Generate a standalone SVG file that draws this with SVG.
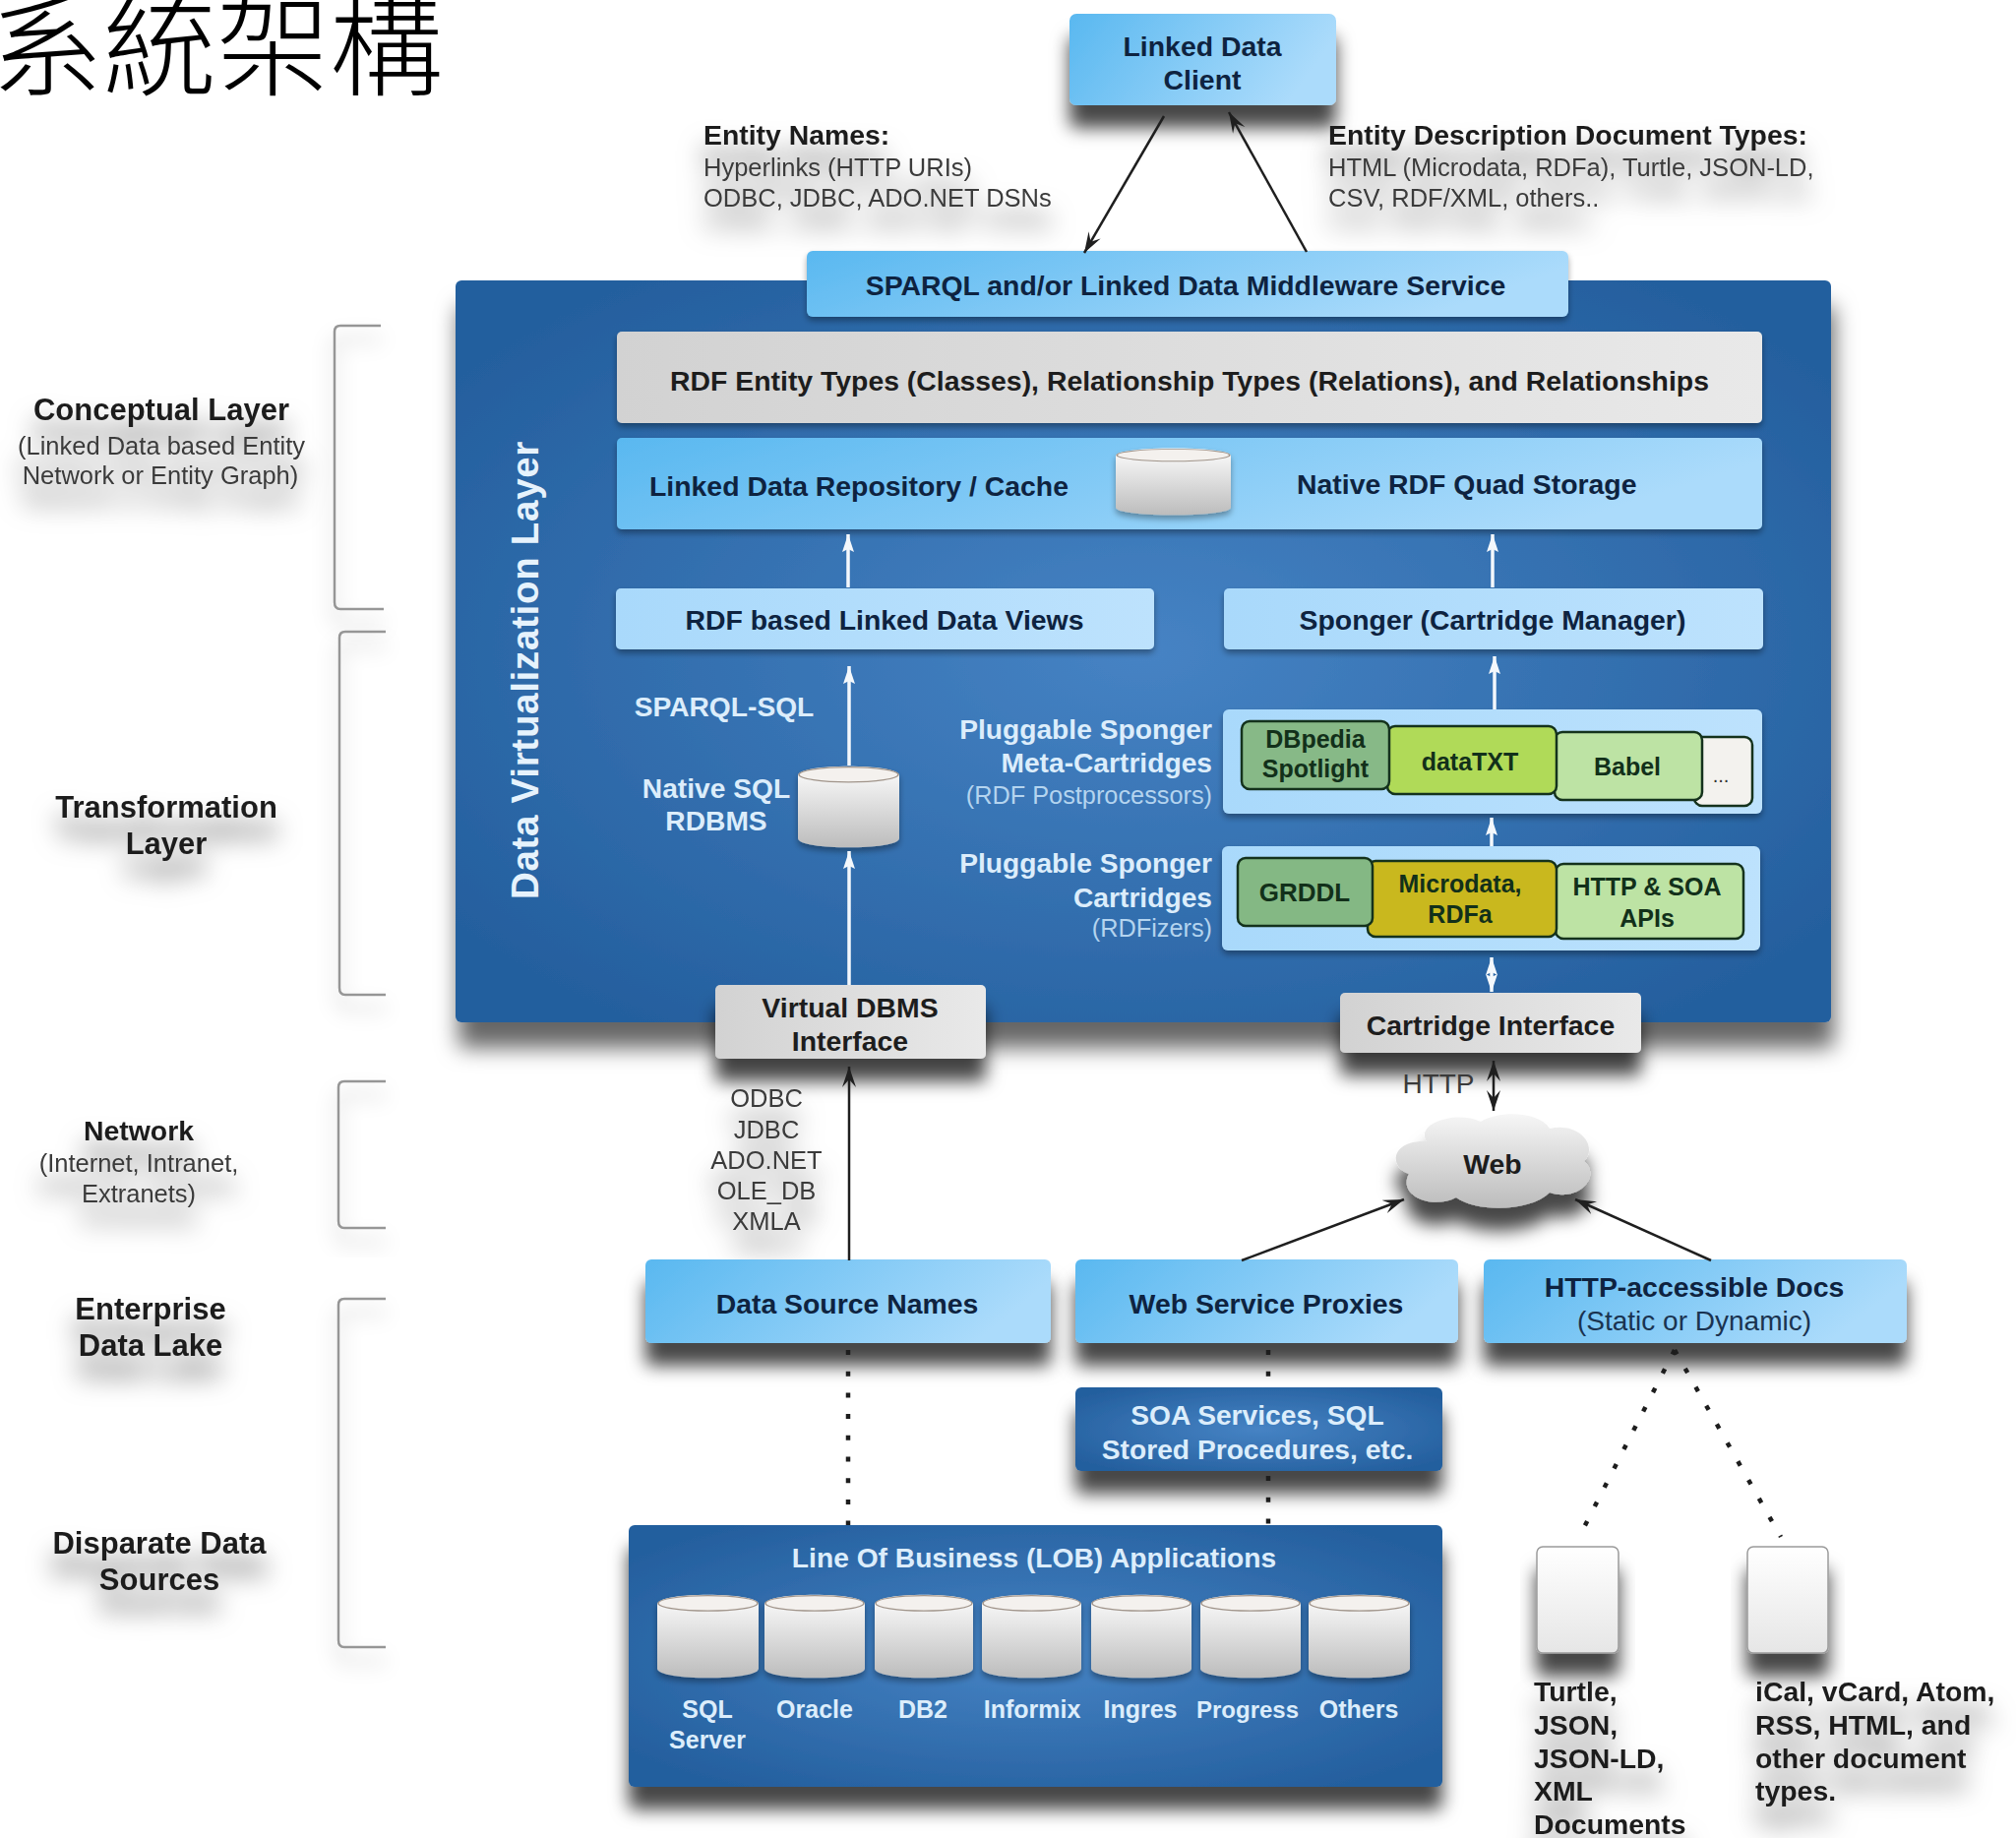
<svg xmlns="http://www.w3.org/2000/svg" xmlns:xlink="http://www.w3.org/1999/xlink" width="2049" height="1868" viewBox="0 0 2049 1868">
<style>
text{font-family:"Liberation Sans",Arial,sans-serif}
.b{font-weight:700;font-size:28.4px;fill:#0e2340}
.k{font-weight:700;font-size:28.4px;fill:#1d1d1d}
.l{font-weight:700;font-size:31px;fill:#1d1d1d}
.r{font-size:25.5px;fill:#3a3a3a}
.w{font-weight:700;font-size:28.2px;fill:#dcedfb}
.p{font-weight:700;font-size:25px;fill:#12301a}
.c{font-weight:700;font-size:25px;fill:#dcedfb}
.m{text-anchor:middle}
.e{text-anchor:end}
.sh{filter:url(#shadow)}
.si{filter:url(#inner)}
.st{filter:url(#tshadow)}
.light{fill:url(#lightblue)}
.pale{fill:url(#paleblue)}
.grey{fill:url(#greyg)}
.dark{fill:url(#darkblue)}
.plug{stroke:#14321c;stroke-width:2.5}
.brk{fill:none;stroke:#969696;stroke-width:2.5;filter:url(#inner2)}
.wa{stroke:#f4f8fc;stroke-width:3.5;fill:none}
.ba{stroke:#1f1f1f;stroke-width:2.5;fill:none}
.dot{stroke:#1d1d1d;stroke-width:4.5;fill:none;stroke-dasharray:5 16.7}
</style>
<defs>
<linearGradient id="lightblue" x1="0" y1="0" x2="1" y2="0.25"><stop offset="0" stop-color="#59b8f0"/><stop offset="1" stop-color="#abdbfb"/></linearGradient>
<linearGradient id="paleblue" x1="0" y1="0" x2="1" y2="0"><stop offset="0" stop-color="#a9d9fb"/><stop offset="1" stop-color="#bde2fd"/></linearGradient>
<linearGradient id="greyg" x1="0" y1="0" x2="1" y2="0"><stop offset="0" stop-color="#d2d2d2"/><stop offset="1" stop-color="#e9e9e9"/></linearGradient>
<radialGradient id="darkblue" cx="0.5" cy="0.5" r="0.62"><stop offset="0" stop-color="#4683c4"/><stop offset="1" stop-color="#245f9e"/></radialGradient>
<linearGradient id="cylg" x1="0" y1="0" x2="0" y2="1"><stop offset="0" stop-color="#fdfdfd"/><stop offset="1" stop-color="#bcbcbc"/></linearGradient>
<linearGradient id="cloudg" x1="0" y1="0" x2="0" y2="1"><stop offset="0" stop-color="#f6f6f6"/><stop offset="1" stop-color="#bcbcbc"/></linearGradient>
<linearGradient id="docg" x1="0" y1="0" x2="0" y2="1"><stop offset="0" stop-color="#ffffff"/><stop offset="1" stop-color="#e6e6e6"/></linearGradient>
<filter id="shadow" x="-20%" y="-30%" width="140%" height="230%"><feDropShadow dx="0" dy="23" stdDeviation="9" flood-color="#000" flood-opacity="0.72"/></filter>
<filter id="bigshadow" x="-5%" y="-5%" width="110%" height="118%"><feDropShadow dx="3" dy="26" stdDeviation="11" flood-color="#000" flood-opacity="0.6"/></filter>
<filter id="inner" x="-10%" y="-20%" width="120%" height="150%"><feDropShadow dx="0" dy="4" stdDeviation="3" flood-color="#000" flood-opacity="0.35"/></filter>
<filter id="inner2" x="-80%" y="-15%" width="260%" height="135%"><feDropShadow dx="0" dy="14" stdDeviation="10" flood-color="#000" flood-opacity="0.32"/></filter>
<filter id="tshadow" x="-20%" y="-40%" width="140%" height="260%"><feDropShadow dx="0" dy="22" stdDeviation="13" flood-color="#000" flood-opacity="0.62"/></filter>
<marker id="wh" markerUnits="userSpaceOnUse" markerWidth="20" markerHeight="14" refX="18" refY="7" orient="auto-start-reverse"><path d="M0,1 L18,7 L0,13 L3,7Z" fill="#f4f8fc"/></marker>
<marker id="bh" markerUnits="userSpaceOnUse" markerWidth="24" markerHeight="16" refX="21" refY="8" orient="auto-start-reverse"><path d="M0,1 L21,8 L0,15 L8,8Z" fill="#1f1f1f"/></marker>
<symbol id="cyl" viewBox="0 0 100 100" preserveAspectRatio="none">
<path d="M0,12 C0,-3 100,-3 100,12 V88 C100,103 0,103 0,88Z" fill="url(#cylg)"/>
<ellipse cx="50" cy="11" rx="49" ry="9" fill="#f4f1ee" stroke="#a0948a" stroke-width="1.4"/>
</symbol>
</defs>
<rect width="2049" height="1868" fill="#fff"/>

<g id="title"><text x="-10" y="88" font-size="115" font-weight="300" fill="#000" style="font-family:'Noto Sans CJK TC','Noto Sans CJK JP',sans-serif">系統架構</text></g>

<g id="label-conceptual" class="st"><text x="164" y="427" class="l m">Conceptual Layer</text><text x="164" y="462" class="r m">(Linked Data based Entity</text><text x="163" y="492" class="r m">Network or Entity Graph)</text></g>
<g id="label-transformation" class="st"><text x="169" y="831" class="l m">Transformation</text><text x="169" y="868" class="l m">Layer</text></g>
<g id="label-network" class="st"><text x="141" y="1159" class="k m">Network</text><text x="141" y="1191" class="r m">(Internet, Intranet,</text><text x="141" y="1222" class="r m">Extranets)</text></g>
<g id="label-lake" class="st"><text x="153" y="1341" class="l m">Enterprise</text><text x="153" y="1378" class="l m">Data Lake</text></g>
<g id="label-sources" class="st"><text x="162" y="1579" class="l m">Disparate Data</text><text x="162" y="1616" class="l m">Sources</text></g>

<g id="brackets">
<path class="brk" d="M387,331 H346 Q340,331 340,337 V612 Q340,619 346,619 H390"/>
<path class="brk" d="M392,642 H351 Q345,642 345,648 V1004 Q345,1011 351,1011 H392"/>
<path class="brk" d="M392,1099 H350 Q344,1099 344,1105 V1241 Q344,1248 350,1248 H392"/>
<path class="brk" d="M392,1320 H350 Q344,1320 344,1326 V1667 Q344,1674 350,1674 H392"/>
</g>

<g id="linked-data-client"><rect x="1087" y="14" width="271" height="93" rx="7" class="light sh"/><text x="1222" y="57" class="b m">Linked Data</text><text x="1222" y="91" class="b m">Client</text></g>
<g id="label-entity-names" class="st"><text x="715" y="147" class="k">Entity Names:</text><text x="715" y="179" class="r">Hyperlinks (HTTP URIs)</text><text x="715" y="210" class="r">ODBC, JDBC, ADO.NET DSNs</text></g>
<g id="label-entity-docs" class="st"><text x="1350" y="147" class="k">Entity Description Document Types:</text><text x="1350" y="179" class="r">HTML (Microdata, RDFa), Turtle, JSON-LD,</text><text x="1350" y="210" class="r">CSV, RDF/XML, others..</text></g>

<g id="data-virtualization-layer"><rect x="463" y="285" width="1398" height="754" rx="6" class="dark" filter="url(#bigshadow)"/><text transform="translate(547,681) rotate(-90)" class="m" style="font-weight:700;font-size:38.5px;letter-spacing:.7px;fill:#e6f2fc">Data Virtualization Layer</text></g>
<g id="sparql-middleware"><rect x="820" y="255" width="774" height="67" rx="6" class="light si"/><text x="1205" y="300" class="b m">SPARQL and/or Linked Data Middleware Service</text></g>
<g id="rdf-entity-types"><rect x="627" y="337" width="1164" height="93" rx="5" class="grey si"/><text x="1209" y="397" class="k m">RDF Entity Types (Classes), Relationship Types (Relations), and Relationships</text></g>
<g id="linked-data-repository"><rect x="627" y="445" width="1164" height="93" rx="5" class="light si"/><text x="660" y="504" class="b">Linked Data Repository / Cache</text><text x="1318" y="502" class="b">Native RDF Quad Storage</text><use href="#cyl" x="1134" y="455" width="117" height="69" class="si"/></g>
<g id="rdf-views"><rect x="626" y="598" width="547" height="62" rx="5" class="pale si"/><text x="899" y="640" class="b m">RDF based Linked Data Views</text></g>
<g id="sponger"><rect x="1244" y="598" width="548" height="62" rx="5" class="pale si"/><text x="1517" y="640" class="b m">Sponger (Cartridge Manager)</text></g>
<g id="native-sql"><use href="#cyl" x="811" y="778" width="103" height="84" class="si"/><text x="728" y="811" class="w m">Native SQL</text><text x="728" y="844" class="w m">RDBMS</text></g>
<g id="label-sparql-sql"><text x="736" y="728" class="w m">SPARQL-SQL</text></g>
<g id="label-meta"><text x="1232" y="751" class="w e">Pluggable Sponger</text><text x="1232" y="785" class="w e">Meta-Cartridges</text><text x="1232" y="817" class="e" style="font-size:25.3px;fill:#b4d4ef">(RDF Postprocessors)</text></g>
<g id="label-cartridges"><text x="1232" y="887" class="w e">Pluggable Sponger</text><text x="1232" y="922" class="w e">Cartridges</text><text x="1232" y="952" class="e" style="font-size:25.3px;fill:#b4d4ef">(RDFizers)</text></g>

<g id="meta-cartridges"><rect x="1243" y="721" width="548" height="106" rx="6" class="pale si"/>
<rect x="1722" y="749" width="59" height="70" rx="8" fill="#f3f2ee" class="plug"/><text x="1749" y="795" class="m" style="font-size:20px;fill:#333">...</text>
<rect x="1580" y="744" width="150" height="69" rx="8" fill="#bde3a4" class="plug"/><text x="1654" y="788" class="p m">Babel</text>
<rect x="1410" y="738" width="172" height="69" rx="8" fill="#b0da58" class="plug"/><text x="1494" y="783" class="p m">dataTXT</text>
<rect x="1262" y="733" width="150" height="69" rx="8" fill="#87b987" class="plug"/><text x="1337" y="760" class="p m">DBpedia</text><text x="1337" y="790" class="p m">Spotlight</text></g>
<g id="cartridges"><rect x="1242" y="860" width="547" height="106" rx="6" class="pale si"/>
<rect x="1581" y="878" width="191" height="76" rx="8" fill="#bde3a4" class="plug"/><text x="1674" y="910" class="p m">HTTP &amp; SOA</text><text x="1674" y="942" class="p m">APIs</text>
<rect x="1390" y="875" width="192" height="77" rx="8" fill="#c9b81e" class="plug"/><text x="1484" y="907" class="p m">Microdata,</text><text x="1484" y="938" class="p m">RDFa</text>
<rect x="1258" y="872" width="137" height="69" rx="8" fill="#84b884" class="plug"/><text x="1326" y="916" class="p m" style="font-size:26px">GRDDL</text></g>

<g id="virtual-dbms"><rect x="727" y="1001" width="275" height="75" rx="5" class="grey sh"/><text x="864" y="1034" class="k m">Virtual DBMS</text><text x="864" y="1068" class="k m">Interface</text></g>
<g id="cartridge-interface"><rect x="1362" y="1009" width="306" height="61" rx="5" class="grey sh"/><text x="1515" y="1052" class="k m">Cartridge Interface</text></g>
<g id="label-http"><text x="1462" y="1111" class="m" style="font-size:28px;fill:#3a3a3a">HTTP</text></g>
<g id="label-protocols" class="st"><text x="779" y="1125" class="r m">ODBC</text><text x="779" y="1157" class="r m">JDBC</text><text x="779" y="1188" class="r m">ADO.NET</text><text x="779" y="1219" class="r m">OLE_DB</text><text x="779" y="1250" class="r m">XMLA</text></g>
<g id="web"><path class="sh" fill="url(#cloudg)" d="M1450,1160 C1438,1142 1480,1128 1505,1140 C1525,1128 1565,1130 1575,1147 C1605,1140 1625,1165 1610,1180 C1628,1195 1605,1222 1575,1212 C1555,1232 1500,1232 1480,1217 C1455,1230 1420,1215 1432,1193 C1410,1185 1415,1158 1450,1160 Z"/><text x="1517" y="1193" class="k m">Web</text></g>

<g id="data-source-names"><rect x="656" y="1280" width="412" height="85" rx="6" class="light sh"/><text x="861" y="1335" class="b m">Data Source Names</text></g>
<g id="web-service-proxies"><rect x="1093" y="1280" width="389" height="85" rx="6" class="light sh"/><text x="1287" y="1335" class="b m">Web Service Proxies</text></g>
<g id="http-docs"><rect x="1508" y="1280" width="430" height="85" rx="6" class="light sh"/><text x="1722" y="1318" class="b m">HTTP-accessible Docs</text><text x="1722" y="1352" class="m" style="font-size:28px;fill:#1a3350">(Static or Dynamic)</text></g>
<g id="soa-services"><rect x="1093" y="1410" width="373" height="85" rx="6" class="dark sh"/><text x="1278" y="1448" class="w m">SOA Services, SQL</text><text x="1278" y="1483" class="w m">Stored Procedures, etc.</text></g>
<g id="lob"><rect x="639" y="1550" width="827" height="266" rx="6" class="dark sh"/><text x="1051" y="1593" class="w m">Line Of Business (LOB) Applications</text></g>
<g id="db-sql-server"><use href="#cyl" x="668" y="1620" width="103" height="86" class="si"/><text x="719" y="1746" class="c m">SQL</text><text x="719" y="1777" class="c m">Server</text></g>
<g id="db-oracle"><use href="#cyl" x="777" y="1620" width="102" height="86" class="si"/><text x="828" y="1746" class="c m">Oracle</text></g>
<g id="db-db2"><use href="#cyl" x="889" y="1620" width="100" height="86" class="si"/><text x="938" y="1746" class="c m">DB2</text></g>
<g id="db-informix"><use href="#cyl" x="998" y="1620" width="101" height="86" class="si"/><text x="1049" y="1746" class="c m">Informix</text></g>
<g id="db-ingres"><use href="#cyl" x="1109" y="1620" width="102" height="86" class="si"/><text x="1159" y="1746" class="c m">Ingres</text></g>
<g id="db-progress"><use href="#cyl" x="1220" y="1620" width="102" height="86" class="si"/><text x="1268" y="1746" class="c m" style="font-size:24px">Progress</text></g>
<g id="db-others"><use href="#cyl" x="1330" y="1620" width="103" height="86" class="si"/><text x="1381" y="1746" class="c m">Others</text></g>

<g id="doc-turtle"><rect x="1562" y="1572" width="83" height="108" rx="6" fill="url(#docg)" stroke="#9a9a9a" stroke-width="1.5" class="sh"/><g class="st"><text x="1559" y="1729" class="k">Turtle,</text><text x="1559" y="1763" class="k">JSON,</text><text x="1559" y="1797" class="k">JSON-LD,</text><text x="1559" y="1830" class="k">XML</text><text x="1559" y="1864" class="k">Documents</text></g></g>
<g id="doc-ical"><rect x="1776" y="1572" width="82" height="108" rx="6" fill="url(#docg)" stroke="#9a9a9a" stroke-width="1.5" class="sh"/><g class="st"><text x="1784" y="1729" class="k">iCal, vCard, Atom,</text><text x="1784" y="1763" class="k">RSS, HTML, and</text><text x="1784" y="1797" class="k">other document</text><text x="1784" y="1830" class="k">types.</text></g></g>

<g id="connectors">
<line class="ba" x1="1183" y1="118" x2="1102" y2="257" marker-end="url(#bh)"/>
<line class="ba" x1="1328" y1="256" x2="1249" y2="114" marker-end="url(#bh)"/>
<line class="wa" x1="862" y1="597" x2="862" y2="543" marker-end="url(#wh)"/>
<line class="wa" x1="1517" y1="597" x2="1517" y2="543" marker-end="url(#wh)"/>
<line class="wa" x1="863" y1="778" x2="863" y2="677" marker-end="url(#wh)"/>
<line class="wa" x1="863" y1="1001" x2="863" y2="865" marker-end="url(#wh)"/>
<line class="wa" x1="1519" y1="721" x2="1519" y2="667" marker-end="url(#wh)"/>
<line class="wa" x1="1516" y1="860" x2="1516" y2="831" marker-end="url(#wh)"/>
<line class="wa" x1="1516" y1="973" x2="1516" y2="1008" marker-start="url(#wh)" marker-end="url(#wh)"/>
<line class="ba" x1="863" y1="1281" x2="863" y2="1084" marker-end="url(#bh)"/>
<line class="ba" x1="1518" y1="1078" x2="1518" y2="1129" marker-start="url(#bh)" marker-end="url(#bh)"/>
<line class="ba" x1="1262" y1="1281" x2="1427" y2="1219" marker-end="url(#bh)"/>
<line class="ba" x1="1739" y1="1281" x2="1601" y2="1219" marker-end="url(#bh)"/>
<line class="dot" x1="862" y1="1372" x2="862" y2="1550"/>
<line class="dot" x1="1289" y1="1372" x2="1289" y2="1409"/>
<line class="dot" x1="1289" y1="1500" x2="1289" y2="1550"/>
<line class="dot" x1="1702" y1="1372" x2="1605" y2="1562"/>
<line class="dot" x1="1702" y1="1372" x2="1810" y2="1562"/>
</g>
</svg>
